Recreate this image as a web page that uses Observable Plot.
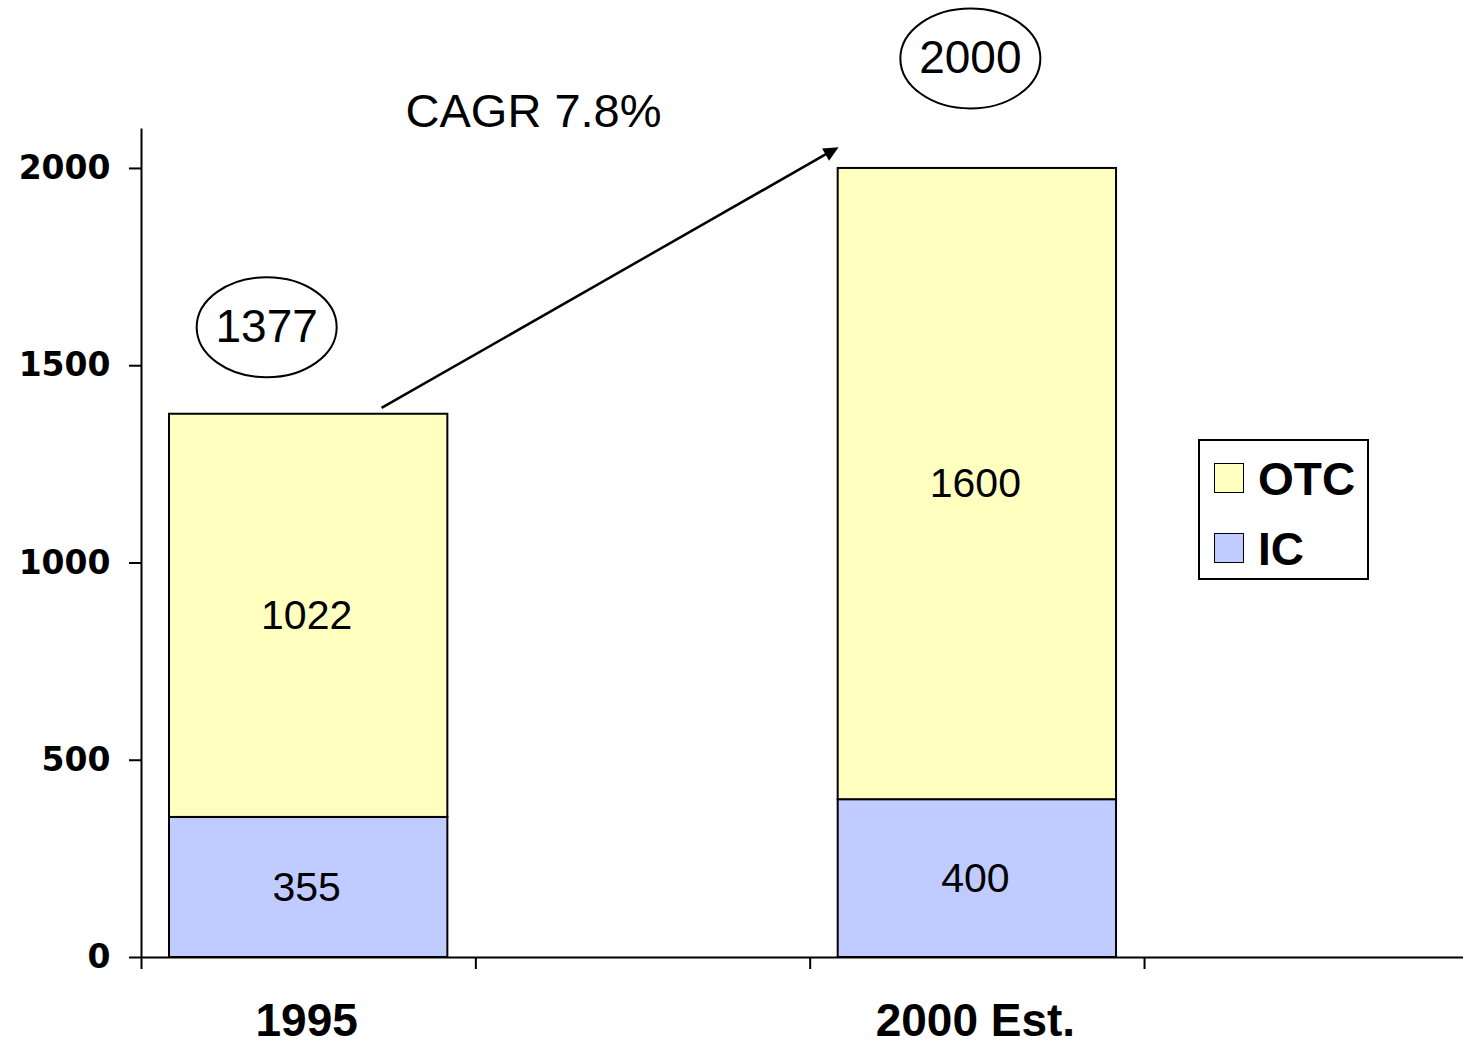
<!DOCTYPE html>
<html>
<head>
<meta charset="utf-8">
<script src="https://cdn.jsdelivr.net/npm/d3@7"></script>
<script src="https://cdn.jsdelivr.net/npm/@observablehq/plot@0.6"></script>
<style>
  body { margin: 0; background: #fff; }
  #wrap { position: relative; width: 1463px; height: 1046px; overflow: hidden; }
  .legend { position: absolute; left: 1198px; top: 439px; width: 167px; height: 137px;
            border: 2px solid #000; background: #fff;
            font-family: "Liberation Sans", Arial, sans-serif; font-weight: bold; font-size: 46px; }
  .sw { position: absolute; left: 14px; width: 28px; height: 28px; border: 1.5px solid #000; }
  .lab { position: absolute; left: 58px; line-height: 46px; color: #000; }
</style>
</head>
<body>
<div id="wrap"></div>
<script>
// ---- data ----
const categorySlots = ["1995", "", "2000 Est.", ""];   // category axis incl. blank slots
const categories = ["1995", "2000 Est."];
const seriesNames = ["IC", "OTC"];
const icValues = [355, 400];
const otcValues = [1022, 1600];
const totals = [1377, 2000];
const yTicks = [0, 500, 1000, 1500, 2000];
const cagrLabel = "CAGR 7.8%";
const legendItems = ["OTC", "IC"];

const colors = { IC: "#C0CCFF", OTC: "#FFFFC0" };

const rows = categories.flatMap((c, i) => [
  { category: c, series: "IC", value: icValues[i] },
  { category: c, series: "OTC", value: otcValues[i] }
]);
const slot = c => categorySlots.indexOf(c);
const totalOf = c => totals[categories.indexOf(c)];

// ellipse symbol for callouts
const ellipseSymbol = {
  draw(ctx) {
    const rx = 70, ry = 50, k = 0.5523;
    ctx.moveTo(rx, 0);
    ctx.bezierCurveTo(rx, ry * k, rx * k, ry, 0, ry);
    ctx.bezierCurveTo(-rx * k, ry, -rx, ry * k, -rx, 0);
    ctx.bezierCurveTo(-rx, -ry * k, -rx * k, -ry, 0, -ry);
    ctx.bezierCurveTo(rx * k, -ry, rx, -ry * k, rx, 0);
    ctx.closePath();
  }
};
// filled arrow head, tip at origin pointing up
const headSymbol = {
  draw(ctx) {
    ctx.moveTo(0, 0);
    ctx.lineTo(-7, 15);
    ctx.lineTo(7, 15);
    ctx.closePath();
  }
};

function callout(cat, dx, dy) {
  const datum = [{ category: cat, total: totalOf(cat) }];
  return [
    Plot.dot(datum, { x: d => slot(d.category) + 0.5, y: "total", symbol: ellipseSymbol, r: 10,
      fill: "none", stroke: "#000", strokeWidth: 2, dx, dy }),
    Plot.text(datum, { x: d => slot(d.category) + 0.5, y: "total", text: d => String(d.total),
      fontSize: 46, fill: "#000", dx, dy })
  ];
}

const cagr = [{ from: "1995", to: "2000 Est.", label: cagrLabel }];

const plot = Plot.plot({
  width: 1463,
  height: 1046,
  marginLeft: 141,
  marginRight: 0,
  marginTop: 128.5,
  marginBottom: 89,
  x: { type: "linear", domain: [0, 3.954] },
  y: { domain: [0, 2100] },
  color: { domain: seriesNames, range: seriesNames.map(s => colors[s]) },
  style: { fontFamily: "'Liberation Sans', Arial, sans-serif", color: "#000", background: "#fff", overflow: "visible" },
  marks: [
    Plot.rectY(rows, {
      x1: d => slot(d.category), x2: d => slot(d.category) + 1, y: "value",
      fill: "series", stroke: "#000", strokeWidth: 2, insetLeft: 28, insetRight: 28
    }),
    Plot.text(rows, Plot.stackY({
      x: d => slot(d.category) + 0.5, y: "value", text: d => String(d.value),
      fontSize: 41, fill: "#000", dx: -2
    })),
    Plot.ruleX([0], { stroke: "#000", strokeWidth: 2 }),
    Plot.ruleY([0], { stroke: "#000", strokeWidth: 2 }),
    Plot.axisY(yTicks, {
      anchor: "left", tickSize: 12, tickPadding: 19, strokeWidth: 2, label: null,
      tickFormat: d => String(d), fontSize: 33, fontWeight: "bold", fontFamily: "DejaVu Sans", fill: "#000"
    }),
    Plot.axisX(categorySlots.map((_, i) => i), {
      anchor: "bottom", tickSize: 12, strokeWidth: 2, label: null, tickFormat: () => ""
    }),
    Plot.axisX(categories.map(c => slot(c) + 0.5), {
      anchor: "bottom", tickSize: 0, tickPadding: 46, label: null,
      tickFormat: v => categorySlots[Math.floor(v)], fontSize: 46, fontWeight: "bold", fill: "#000", dx: -2
    }),
    ...callout("1995", -42, -87),
    ...callout("2000 Est.", -7, -110),
    Plot.link(cagr, {
      x1: d => slot(d.from) + 0.718, y1: d => totalOf(d.from) + 16,
      x2: d => slot(d.to) + 0.055, y2: d => totalOf(d.to) + 40,
      stroke: "#000", strokeWidth: 2.5
    }),
    Plot.dot(cagr, {
      x: d => slot(d.to) + 0.085, y: d => totalOf(d.to) + 54,
      symbol: headSymbol, r: 10, fill: "#000", stroke: "none", rotate: 60.3
    }),
    Plot.text(cagr, {
      x: d => (slot(d.from) + slot(d.to)) / 2 + 0.1725, y: d => totalOf(d.to) + 143,
      text: "label", fontSize: 47, fill: "#000"
    })
  ]
});

const wrap = document.getElementById("wrap");
wrap.appendChild(plot);

// legend
const legend = document.createElement("div");
legend.className = "legend";
legendItems.forEach((name, i) => {
  const sw = document.createElement("div");
  sw.className = "sw";
  sw.style.top = (22 + i * 70) + "px";
  sw.style.background = colors[name];
  const lab = document.createElement("div");
  lab.className = "lab";
  lab.style.top = (15 + i * 70) + "px";
  lab.textContent = name;
  legend.appendChild(sw);
  legend.appendChild(lab);
});
wrap.appendChild(legend);
</script>
</body>
</html>
